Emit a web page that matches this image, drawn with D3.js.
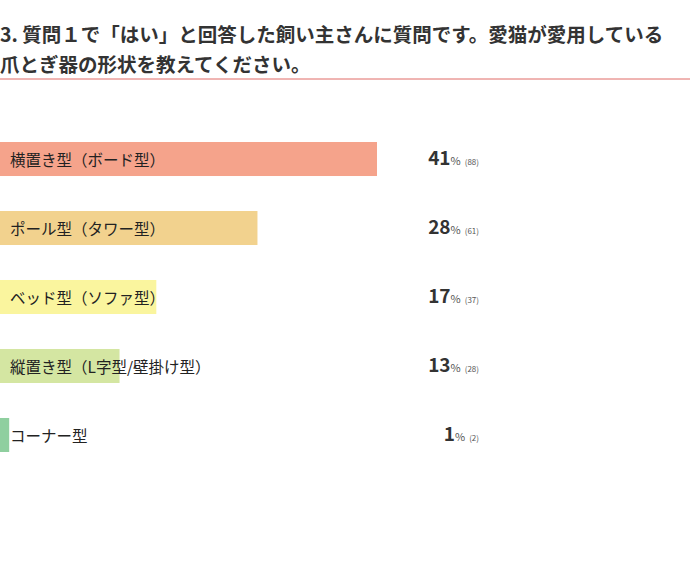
<!DOCTYPE html><html><head><meta charset="utf-8"><script src="https://cdn.jsdelivr.net/npm/d3@7"></script>
<style>body{margin:0;background:#fff}text{font-family:"Noto Sans CJK JP","Noto Sans",sans-serif}</style></head><body>
<svg id="c" width="700" height="563"></svg>
<script>
const categories=["横置き型（ボード型）","ポール型（タワー型）","ベッド型（ソファ型）","縦置き型（L字型/壁掛け型）","コーナー型"];
const percents=[41,28,17,13,1];
const counts=[88,61,37,28,2];
const colors=["#f5a38b","#f2d28e","#faf59e","#d4e6a2","#8fcf9f"];
const svg=d3.select("#c");
svg.append("text").attr("x",0).attr("y",42).attr("font-size",19.5).attr("font-weight","bold").attr("fill","#333").text("3. 質問１で「はい」と回答した飼い主さんに質問です。愛猫が愛用している");
svg.append("text").attr("x",0).attr("y",72).attr("font-size",19.5).attr("font-weight","bold").attr("fill","#333").text("爪とぎ器の形状を教えてください。");
svg.append("line").attr("x1",0).attr("x2",690).attr("y1",79).attr("y2",79).attr("stroke","#e06a66").attr("stroke-width",1);
const x=d3.scaleLinear().domain([0,41]).range([0,377]);
const y=d3.scaleBand().domain(categories).range([142,452]).paddingInner(0.507).paddingOuter(0);
const g=svg.selectAll("g.r").data(categories).enter().append("g");
g.append("rect").attr("x",0).attr("y",d=>y(d)).attr("width",(d,i)=>x(percents[i])).attr("height",y.bandwidth()).attr("fill",(d,i)=>colors[i]);
g.append("text").attr("x",10).attr("y",d=>y(d)+y.bandwidth()/2+7).attr("font-size",15.5).attr("fill","#222").text(d=>d);
const t=g.append("text").attr("x",479).attr("y",d=>y(d)+y.bandwidth()/2+6).attr("text-anchor","end").attr("fill","#333");
t.append("tspan").attr("font-size",19).attr("font-weight","bold").text((d,i)=>percents[i]);
t.append("tspan").attr("font-size",11).attr("fill","#555").text("%");
t.append("tspan").attr("font-size",8).attr("fill","#555").attr("dx",4).text((d,i)=>"("+counts[i]+")");
</script></body></html>
